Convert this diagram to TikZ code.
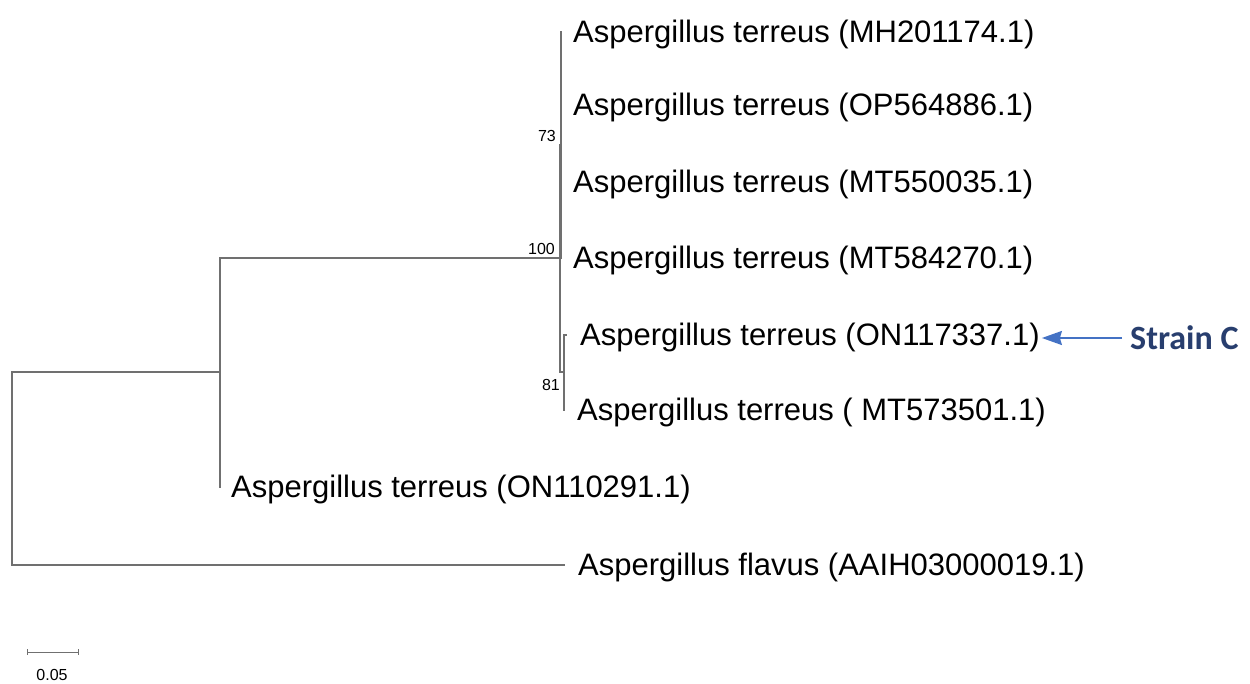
\documentclass[tikz,border=0pt]{standalone}
\usepackage{fontspec}
\setmainfont{Liberation Sans}
\newfontfamily\calibri{Carlito}
\usetikzlibrary{arrows.meta,positioning}

\definecolor{treegray}{RGB}{112,112,112}
\definecolor{arrowblue}{RGB}{68,114,196}
\definecolor{straincol}{RGB}{40,62,110}

\begin{document}
\begin{tikzpicture}[x=1pt,y=-1pt,
  branch/.style={draw=treegray,line width=1.2pt},
  taxon/.style={anchor=west,inner sep=0pt,yshift=-2pt,font=\fontsize{31}{36}\selectfont},
  boot/.style={inner sep=0pt,font=\fontsize{16}{19}\selectfont},
  strain/.style={anchor=west,inner sep=0pt,text=straincol,font=\calibri\bfseries\fontsize{34}{40}\selectfont}]

  \useasboundingbox (0,0) rectangle (1250,684);

  % internal nodes
  \coordinate (root) at (12,468);
  \coordinate (nA) at (220,372);
  \coordinate (n100) at (560,258);
  \coordinate (n73) at (561,145);
  \coordinate (n81) at (564,372);

  % branch tips
  \coordinate (b1) at (562,32);
  \coordinate (b2) at (562,105);
  \coordinate (b3) at (562,182);
  \coordinate (b4) at (562,258);
  \coordinate (b5) at (567,335);
  \coordinate (b6) at (565,410);
  \coordinate (b7) at (221,487);
  \coordinate (b8) at (565,565);

  \node[taxon, right=11pt of b1] (t1) {Aspergillus terreus (MH201174.1)};
  \node[taxon, right=11pt of b2] (t2) {Aspergillus terreus (OP564886.1)};
  \node[taxon, right=11pt of b3] (t3) {Aspergillus terreus (MT550035.1)};
  \node[taxon, right=11pt of b4] (t4) {Aspergillus terreus (MT584270.1)};
  \node[taxon, right=13pt of b5] (t5) {Aspergillus terreus (ON117337.1)};
  \node[taxon, right=12pt of b6] (t6) {Aspergillus terreus ( MT573501.1)};
  \node[taxon, right=10pt of b7] (t7) {Aspergillus terreus (ON110291.1)};
  \node[taxon, right=13pt of b8] (t8) {Aspergillus flavus (AAIH03000019.1)};

  % bootstrap values
  \node[boot, above left=3pt and 5pt of n73] {73};
  \node[boot, above left=3pt and 5pt of n100] {100};
  \node[boot, below left=7pt and 4pt of n81] {81};

  \path[branch]
    (root) |- (nA)
    (root) |- (b8)
    (nA) |- (n100)
    (nA) |- (b7)
    (n100) |- (n73)
    (n100) |- (n81)
    (n73) |- (b1)
    (n73) |- (b2)
    (n73) |- (b3)
    (n73) |- (b4)
    (n81) |- (b5)
    (n81) |- (b6);

  % marked strain
  \node[strain] (strain) at (1130,338) {Strain C};
  \draw[-{Stealth[length=20pt,width=14pt,inset=2pt]},arrowblue,line width=2pt,shorten <=8pt,shorten >=2pt]
    (strain.west) -- (strain.west -| t5.east);

  % scale bar
  \coordinate (s1) at (27,652);
  \coordinate (s2) at (78,652);
  \draw[branch,line width=1pt] (s1) -- (s2);
  \draw[treegray,line width=1pt] ([yshift=3pt]s1) -- ([yshift=-3pt]s1)
    ([yshift=3pt]s2) -- ([yshift=-3pt]s2);
  \node[boot, below=17pt of s1, xshift=25pt] (scale) {0.05};

\end{tikzpicture}
\end{document}
